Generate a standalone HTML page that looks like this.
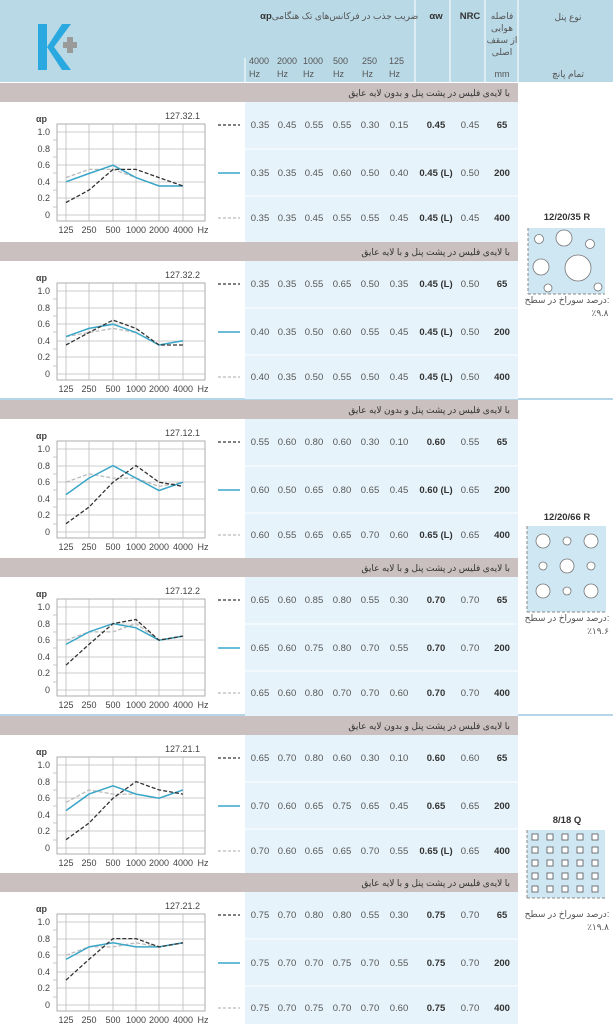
<!DOCTYPE html>
<html><head><meta charset="utf-8"><style>
html,body{margin:0;padding:0;background:#fff;}
svg{display:block;font-family:"Liberation Sans","DejaVu Sans",sans-serif;}
.v{font-size:9.5px;fill:#555;text-anchor:middle;}
.b{font-size:9.5px;fill:#333;text-anchor:middle;font-weight:bold;}
.ax{font-size:9px;fill:#444;}
.bt{font-size:9px;fill:#333;text-anchor:end;}
.h{font-size:9px;fill:#555;}
</style></head><body>
<svg width="613" height="1024" viewBox="0 0 613 1024" xmlns="http://www.w3.org/2000/svg">
<defs>
<g id="grid" stroke="#bbb" stroke-width="0.8" fill="none">
<rect x="57" y="41" width="148" height="97" stroke="#999"/>
<line x1="57" y1="49" x2="205" y2="49"/><line x1="57" y1="66" x2="205" y2="66"/><line x1="57" y1="82" x2="205" y2="82"/><line x1="57" y1="99" x2="205" y2="99"/><line x1="57" y1="115" x2="205" y2="115"/><line x1="57" y1="132" x2="205" y2="132"/>
<line x1="66" y1="41" x2="66" y2="138"/><line x1="89" y1="41" x2="89" y2="138"/><line x1="113" y1="41" x2="113" y2="138"/><line x1="136" y1="41" x2="136" y2="138"/><line x1="159" y1="41" x2="159" y2="138"/><line x1="183" y1="41" x2="183" y2="138"/>
<line x1="53" y1="57" x2="57" y2="57"/><line x1="53" y1="74" x2="57" y2="74"/><line x1="53" y1="90" x2="57" y2="90"/><line x1="53" y1="107" x2="57" y2="107"/><line x1="53" y1="124" x2="57" y2="124"/>
</g>
<g id="leg">
<line x1="218" y1="42" x2="240" y2="42" stroke="#333" stroke-width="1.3" stroke-dasharray="3,2"/>
<line x1="218" y1="90" x2="240" y2="90" stroke="#3aa6c8" stroke-width="1.5"/>
<line x1="218" y1="135" x2="240" y2="135" stroke="#bbb" stroke-width="1.2" stroke-dasharray="3,2"/>
<line x1="245" y1="66" x2="518" y2="66" stroke="#fff" stroke-width="1"/>
<line x1="245" y1="113" x2="518" y2="113" stroke="#fff" stroke-width="1"/>
</g>
</defs>

<!-- header -->
<rect x="0" y="0" width="613" height="82" fill="#b9d9e6"/>
<g stroke="#fff" stroke-width="1">
<line x1="415" y1="0" x2="415" y2="82"/><line x1="450" y1="0" x2="450" y2="82"/><line x1="485" y1="0" x2="485" y2="82"/><line x1="518" y1="0" x2="518" y2="82"/>
<line x1="245" y1="58" x2="245" y2="82"/>
</g>
<rect x="38" y="24" width="9" height="46" fill="#29a9e0"/>
<polygon points="47,47 62,24 71,24 54,47 71,70 62,70" fill="#29a9e0"/>
<rect x="63" y="42" width="14" height="6" fill="#9a9a9a"/><rect x="67" y="37" width="6" height="16" fill="#9a9a9a"/>
<text x="345" y="19" class="h" text-anchor="middle">ضریب جذب در فرکانس‌های تک هنگامی</text>
<text x="266" y="19" class="b">αp</text>
<text x="436" y="19" class="b">αw</text>
<text x="470" y="19" class="b">NRC</text>
<text x="502" y="19" class="h" text-anchor="middle">فاصله</text>
<text x="502" y="31" class="h" text-anchor="middle">هوایی</text>
<text x="502" y="43" class="h" text-anchor="middle">از سقف</text>
<text x="502" y="55" class="h" text-anchor="middle">اصلی</text>
<text x="502" y="77" class="h" text-anchor="middle">mm</text>
<text x="568" y="20" class="h" text-anchor="middle">نوع پنل</text>
<text x="568" y="77" class="h" text-anchor="middle">تمام پانچ</text>
<g class="h">
<text x="249" y="64">4000</text><text x="249" y="77">Hz</text>
<text x="277" y="64">2000</text><text x="277" y="77">Hz</text>
<text x="303" y="64">1000</text><text x="303" y="77">Hz</text>
<text x="333" y="64">500</text><text x="333" y="77">Hz</text>
<text x="362" y="64">250</text><text x="362" y="77">Hz</text>
<text x="389" y="64">125</text><text x="389" y="77">Hz</text>
</g>

<line x1="0" y1="399" x2="613" y2="399" stroke="#9cc9dd" stroke-width="1.5"/>
<line x1="0" y1="715" x2="613" y2="715" stroke="#9cc9dd" stroke-width="1.5"/>

<!-- Section 1 -->
<g transform="translate(0,83)">
<rect x="0" y="0" width="518" height="19" fill="#c9c0bf"/>
<rect x="245" y="19" width="273" height="140" fill="#e6f3fa"/>
<text x="510" y="13" class="bt">با لایه‌ی فلیس در پشت پنل و بدون لایه عایق</text>
<use href="#grid"/><use href="#leg"/>
<text x="36" y="39" class="ax" font-weight="bold">αp</text>
<text x="50" y="52" class="ax" text-anchor="end">1.0</text><text x="50" y="69" class="ax" text-anchor="end">0.8</text><text x="50" y="85" class="ax" text-anchor="end">0.6</text><text x="50" y="102" class="ax" text-anchor="end">0.4</text><text x="50" y="118" class="ax" text-anchor="end">0.2</text><text x="50" y="135" class="ax" text-anchor="end">0</text>
<text x="200" y="36" class="ax" text-anchor="end">127.32.1</text>
<g class="ax" text-anchor="middle"><text x="66" y="150">125</text><text x="89" y="150">250</text><text x="113" y="150">500</text><text x="136" y="150">1000</text><text x="159" y="150">2000</text><text x="183" y="150">4000</text><text x="203" y="150">Hz</text></g>
<polyline points="66,94.6 89,86.4 113,86.4 136,94.6 159,103 183,103" fill="none" stroke="#bbb" stroke-width="1.3" stroke-dasharray="4,2"/>
<polyline points="66,98.8 89,90.5 113,82.2 136,94.6 159,103 183,103" fill="none" stroke="#3aa6c8" stroke-width="1.5"/>
<polyline points="66,119.5 89,107.1 113,86.4 136,86.4 159,94.6 183,103" fill="none" stroke="#333" stroke-width="1.3" stroke-dasharray="4,2"/>
<g class="v"><text x="260" y="45">0.35</text><text x="287" y="45">0.45</text><text x="314" y="45">0.55</text><text x="342" y="45">0.55</text><text x="370" y="45">0.30</text><text x="399" y="45">0.15</text><text x="470" y="45">0.45</text></g>
<text x="436" y="45" class="b">0.45</text><text x="502" y="45" class="b">65</text>
<g class="v"><text x="260" y="93">0.35</text><text x="287" y="93">0.35</text><text x="314" y="93">0.45</text><text x="342" y="93">0.60</text><text x="370" y="93">0.50</text><text x="399" y="93">0.40</text><text x="470" y="93">0.50</text></g>
<text x="436" y="93" class="b">0.45 (L)</text><text x="502" y="93" class="b">200</text>
<g class="v"><text x="260" y="138">0.35</text><text x="287" y="138">0.35</text><text x="314" y="138">0.45</text><text x="342" y="138">0.55</text><text x="370" y="138">0.55</text><text x="399" y="138">0.45</text><text x="470" y="138">0.45</text></g>
<text x="436" y="138" class="b">0.45 (L)</text><text x="502" y="138" class="b">400</text>
</g>

<!-- Section 2 -->
<g transform="translate(0,242)">
<rect x="0" y="0" width="518" height="19" fill="#c9c0bf"/>
<rect x="245" y="19" width="273" height="138" fill="#e6f3fa"/>
<text x="510" y="13" class="bt">با لایه‌ی فلیس در پشت پنل و با لایه عایق</text>
<use href="#grid"/><use href="#leg"/>
<text x="36" y="39" class="ax" font-weight="bold">αp</text>
<text x="50" y="52" class="ax" text-anchor="end">1.0</text><text x="50" y="69" class="ax" text-anchor="end">0.8</text><text x="50" y="85" class="ax" text-anchor="end">0.6</text><text x="50" y="102" class="ax" text-anchor="end">0.4</text><text x="50" y="118" class="ax" text-anchor="end">0.2</text><text x="50" y="135" class="ax" text-anchor="end">0</text>
<text x="200" y="36" class="ax" text-anchor="end">127.32.2</text>
<g class="ax" text-anchor="middle"><text x="66" y="150">125</text><text x="89" y="150">250</text><text x="113" y="150">500</text><text x="136" y="150">1000</text><text x="159" y="150">2000</text><text x="183" y="150">4000</text><text x="203" y="150">Hz</text></g>
<polyline points="66,94.6 89,90.5 113,86.4 136,90.5 159,103 183,98.8" fill="none" stroke="#bbb" stroke-width="1.3" stroke-dasharray="4,2"/>
<polyline points="66,94.6 89,86.4 113,82.2 136,90.5 159,103 183,98.8" fill="none" stroke="#3aa6c8" stroke-width="1.5"/>
<polyline points="66,103 89,90.5 113,78.1 136,86.4 159,103 183,103" fill="none" stroke="#333" stroke-width="1.3" stroke-dasharray="4,2"/>
<g class="v"><text x="260" y="45">0.35</text><text x="287" y="45">0.35</text><text x="314" y="45">0.55</text><text x="342" y="45">0.65</text><text x="370" y="45">0.50</text><text x="399" y="45">0.35</text><text x="470" y="45">0.50</text></g>
<text x="436" y="45" class="b">0.45 (L)</text><text x="502" y="45" class="b">65</text>
<g class="v"><text x="260" y="93">0.40</text><text x="287" y="93">0.35</text><text x="314" y="93">0.50</text><text x="342" y="93">0.60</text><text x="370" y="93">0.55</text><text x="399" y="93">0.45</text><text x="470" y="93">0.50</text></g>
<text x="436" y="93" class="b">0.45 (L)</text><text x="502" y="93" class="b">200</text>
<g class="v"><text x="260" y="138">0.40</text><text x="287" y="138">0.35</text><text x="314" y="138">0.50</text><text x="342" y="138">0.55</text><text x="370" y="138">0.50</text><text x="399" y="138">0.45</text><text x="470" y="138">0.50</text></g>
<text x="436" y="138" class="b">0.45 (L)</text><text x="502" y="138" class="b">400</text>
</g>

<!-- Section 3 -->
<g transform="translate(0,400)">
<rect x="0" y="0" width="518" height="19" fill="#c9c0bf"/>
<rect x="245" y="19" width="273" height="139" fill="#e6f3fa"/>
<text x="510" y="13" class="bt">با لایه‌ی فلیس در پشت پنل و بدون لایه عایق</text>
<use href="#grid"/><use href="#leg"/>
<text x="36" y="39" class="ax" font-weight="bold">αp</text>
<text x="50" y="52" class="ax" text-anchor="end">1.0</text><text x="50" y="69" class="ax" text-anchor="end">0.8</text><text x="50" y="85" class="ax" text-anchor="end">0.6</text><text x="50" y="102" class="ax" text-anchor="end">0.4</text><text x="50" y="118" class="ax" text-anchor="end">0.2</text><text x="50" y="135" class="ax" text-anchor="end">0</text>
<text x="200" y="36" class="ax" text-anchor="end">127.12.1</text>
<g class="ax" text-anchor="middle"><text x="66" y="150">125</text><text x="89" y="150">250</text><text x="113" y="150">500</text><text x="136" y="150">1000</text><text x="159" y="150">2000</text><text x="183" y="150">4000</text><text x="203" y="150">Hz</text></g>
<polyline points="66,82.2 89,73.9 113,78.1 136,78.1 159,86.4 183,82.2" fill="none" stroke="#bbb" stroke-width="1.3" stroke-dasharray="4,2"/>
<polyline points="66,94.6 89,78.1 113,65.6 136,78.1 159,90.5 183,82.2" fill="none" stroke="#3aa6c8" stroke-width="1.5"/>
<polyline points="66,123.7 89,107.1 113,82.2 136,65.6 159,82.2 183,86.4" fill="none" stroke="#333" stroke-width="1.3" stroke-dasharray="4,2"/>
<g class="v"><text x="260" y="45">0.55</text><text x="287" y="45">0.60</text><text x="314" y="45">0.80</text><text x="342" y="45">0.60</text><text x="370" y="45">0.30</text><text x="399" y="45">0.10</text><text x="470" y="45">0.55</text></g>
<text x="436" y="45" class="b">0.60</text><text x="502" y="45" class="b">65</text>
<g class="v"><text x="260" y="93">0.60</text><text x="287" y="93">0.50</text><text x="314" y="93">0.65</text><text x="342" y="93">0.80</text><text x="370" y="93">0.65</text><text x="399" y="93">0.45</text><text x="470" y="93">0.65</text></g>
<text x="436" y="93" class="b">0.60 (L)</text><text x="502" y="93" class="b">200</text>
<g class="v"><text x="260" y="138">0.60</text><text x="287" y="138">0.55</text><text x="314" y="138">0.65</text><text x="342" y="138">0.65</text><text x="370" y="138">0.70</text><text x="399" y="138">0.60</text><text x="470" y="138">0.65</text></g>
<text x="436" y="138" class="b">0.65 (L)</text><text x="502" y="138" class="b">400</text>
</g>

<!-- Section 4 -->
<g transform="translate(0,558)">
<rect x="0" y="0" width="518" height="19" fill="#c9c0bf"/>
<rect x="245" y="19" width="273" height="139" fill="#e6f3fa"/>
<text x="510" y="13" class="bt">با لایه‌ی فلیس در پشت پنل و با لایه عایق</text>
<use href="#grid"/><use href="#leg"/>
<text x="36" y="39" class="ax" font-weight="bold">αp</text>
<text x="50" y="52" class="ax" text-anchor="end">1.0</text><text x="50" y="69" class="ax" text-anchor="end">0.8</text><text x="50" y="85" class="ax" text-anchor="end">0.6</text><text x="50" y="102" class="ax" text-anchor="end">0.4</text><text x="50" y="118" class="ax" text-anchor="end">0.2</text><text x="50" y="135" class="ax" text-anchor="end">0</text>
<text x="200" y="36" class="ax" text-anchor="end">127.12.2</text>
<g class="ax" text-anchor="middle"><text x="66" y="150">125</text><text x="89" y="150">250</text><text x="113" y="150">500</text><text x="136" y="150">1000</text><text x="159" y="150">2000</text><text x="183" y="150">4000</text><text x="203" y="150">Hz</text></g>
<polyline points="66,82.2 89,73.9 113,73.9 136,65.6 159,82.2 183,78.1" fill="none" stroke="#bbb" stroke-width="1.3" stroke-dasharray="4,2"/>
<polyline points="66,86.4 89,73.9 113,65.6 136,69.8 159,82.2 183,78.1" fill="none" stroke="#3aa6c8" stroke-width="1.5"/>
<polyline points="66,107.1 89,86.4 113,65.6 136,61.5 159,82.2 183,78.1" fill="none" stroke="#333" stroke-width="1.3" stroke-dasharray="4,2"/>
<g class="v"><text x="260" y="45">0.65</text><text x="287" y="45">0.60</text><text x="314" y="45">0.85</text><text x="342" y="45">0.80</text><text x="370" y="45">0.55</text><text x="399" y="45">0.30</text><text x="470" y="45">0.70</text></g>
<text x="436" y="45" class="b">0.70</text><text x="502" y="45" class="b">65</text>
<g class="v"><text x="260" y="93">0.65</text><text x="287" y="93">0.60</text><text x="314" y="93">0.75</text><text x="342" y="93">0.80</text><text x="370" y="93">0.70</text><text x="399" y="93">0.55</text><text x="470" y="93">0.70</text></g>
<text x="436" y="93" class="b">0.70</text><text x="502" y="93" class="b">200</text>
<g class="v"><text x="260" y="138">0.65</text><text x="287" y="138">0.60</text><text x="314" y="138">0.80</text><text x="342" y="138">0.70</text><text x="370" y="138">0.70</text><text x="399" y="138">0.60</text><text x="470" y="138">0.70</text></g>
<text x="436" y="138" class="b">0.70</text><text x="502" y="138" class="b">400</text>
</g>

<!-- Section 5 -->
<g transform="translate(0,716)">
<rect x="0" y="0" width="518" height="19" fill="#c9c0bf"/>
<rect x="245" y="19" width="273" height="138" fill="#e6f3fa"/>
<text x="510" y="13" class="bt">با لایه‌ی فلیس در پشت پنل و بدون لایه عایق</text>
<use href="#grid"/><use href="#leg"/>
<text x="36" y="39" class="ax" font-weight="bold">αp</text>
<text x="50" y="52" class="ax" text-anchor="end">1.0</text><text x="50" y="69" class="ax" text-anchor="end">0.8</text><text x="50" y="85" class="ax" text-anchor="end">0.6</text><text x="50" y="102" class="ax" text-anchor="end">0.4</text><text x="50" y="118" class="ax" text-anchor="end">0.2</text><text x="50" y="135" class="ax" text-anchor="end">0</text>
<text x="200" y="36" class="ax" text-anchor="end">127.21.1</text>
<g class="ax" text-anchor="middle"><text x="66" y="150">125</text><text x="89" y="150">250</text><text x="113" y="150">500</text><text x="136" y="150">1000</text><text x="159" y="150">2000</text><text x="183" y="150">4000</text><text x="203" y="150">Hz</text></g>
<polyline points="66,86.4 89,73.9 113,78.1 136,78.1 159,82.2 183,73.9" fill="none" stroke="#bbb" stroke-width="1.3" stroke-dasharray="4,2"/>
<polyline points="66,94.6 89,78.1 113,69.8 136,78.1 159,82.2 183,73.9" fill="none" stroke="#3aa6c8" stroke-width="1.5"/>
<polyline points="66,123.7 89,107.1 113,82.2 136,65.6 159,73.9 183,78.1" fill="none" stroke="#333" stroke-width="1.3" stroke-dasharray="4,2"/>
<g class="v"><text x="260" y="45">0.65</text><text x="287" y="45">0.70</text><text x="314" y="45">0.80</text><text x="342" y="45">0.60</text><text x="370" y="45">0.30</text><text x="399" y="45">0.10</text><text x="470" y="45">0.60</text></g>
<text x="436" y="45" class="b">0.60</text><text x="502" y="45" class="b">65</text>
<g class="v"><text x="260" y="93">0.70</text><text x="287" y="93">0.60</text><text x="314" y="93">0.65</text><text x="342" y="93">0.75</text><text x="370" y="93">0.65</text><text x="399" y="93">0.45</text><text x="470" y="93">0.65</text></g>
<text x="436" y="93" class="b">0.65</text><text x="502" y="93" class="b">200</text>
<g class="v"><text x="260" y="138">0.70</text><text x="287" y="138">0.60</text><text x="314" y="138">0.65</text><text x="342" y="138">0.65</text><text x="370" y="138">0.70</text><text x="399" y="138">0.55</text><text x="470" y="138">0.65</text></g>
<text x="436" y="138" class="b">0.65 (L)</text><text x="502" y="138" class="b">400</text>
</g>

<!-- Section 6 -->
<g transform="translate(0,873)">
<rect x="0" y="0" width="518" height="19" fill="#c9c0bf"/>
<rect x="245" y="19" width="273" height="132" fill="#e6f3fa"/>
<text x="510" y="13" class="bt">با لایه‌ی فلیس در پشت پنل و با لایه عایق</text>
<use href="#grid"/><use href="#leg"/>
<text x="36" y="39" class="ax" font-weight="bold">αp</text>
<text x="50" y="52" class="ax" text-anchor="end">1.0</text><text x="50" y="69" class="ax" text-anchor="end">0.8</text><text x="50" y="85" class="ax" text-anchor="end">0.6</text><text x="50" y="102" class="ax" text-anchor="end">0.4</text><text x="50" y="118" class="ax" text-anchor="end">0.2</text><text x="50" y="135" class="ax" text-anchor="end">0</text>
<text x="200" y="36" class="ax" text-anchor="end">127.21.2</text>
<g class="ax" text-anchor="middle"><text x="66" y="150">125</text><text x="89" y="150">250</text><text x="113" y="150">500</text><text x="136" y="150">1000</text><text x="159" y="150">2000</text><text x="183" y="150">4000</text><text x="203" y="150">Hz</text></g>
<polyline points="66,82.2 89,73.9 113,73.9 136,69.8 159,73.9 183,69.8" fill="none" stroke="#bbb" stroke-width="1.3" stroke-dasharray="4,2"/>
<polyline points="66,86.4 89,73.9 113,69.8 136,73.9 159,73.9 183,69.8" fill="none" stroke="#3aa6c8" stroke-width="1.5"/>
<polyline points="66,107.1 89,86.4 113,65.6 136,65.6 159,73.9 183,69.8" fill="none" stroke="#333" stroke-width="1.3" stroke-dasharray="4,2"/>
<g class="v"><text x="260" y="45">0.75</text><text x="287" y="45">0.70</text><text x="314" y="45">0.80</text><text x="342" y="45">0.80</text><text x="370" y="45">0.55</text><text x="399" y="45">0.30</text><text x="470" y="45">0.70</text></g>
<text x="436" y="45" class="b">0.75</text><text x="502" y="45" class="b">65</text>
<g class="v"><text x="260" y="93">0.75</text><text x="287" y="93">0.70</text><text x="314" y="93">0.70</text><text x="342" y="93">0.75</text><text x="370" y="93">0.70</text><text x="399" y="93">0.55</text><text x="470" y="93">0.70</text></g>
<text x="436" y="93" class="b">0.75</text><text x="502" y="93" class="b">200</text>
<g class="v"><text x="260" y="138">0.75</text><text x="287" y="138">0.70</text><text x="314" y="138">0.75</text><text x="342" y="138">0.70</text><text x="370" y="138">0.70</text><text x="399" y="138">0.60</text><text x="470" y="138">0.70</text></g>
<text x="436" y="138" class="b">0.75</text><text x="502" y="138" class="b">400</text>
</g>

<!-- Panel 1 -->
<text x="567" y="220" class="b">12/20/35 R</text>
<rect x="528" y="228" width="77" height="66" fill="#cfe6f3"/>
<line x1="528" y1="228" x2="528" y2="294" stroke="#888" stroke-dasharray="3,2"/>
<line x1="528" y1="294" x2="605" y2="294" stroke="#888" stroke-dasharray="3,2"/>
<g fill="#fff" stroke="#777" stroke-width="0.8">
<circle cx="539" cy="239" r="4.5"/><circle cx="564" cy="238" r="8"/><circle cx="590" cy="244" r="4.5"/>
<circle cx="541" cy="267" r="8"/><circle cx="578" cy="268" r="13"/><circle cx="548" cy="288" r="4"/><circle cx="598" cy="287" r="4"/>
</g>
<text x="567" y="303" class="h" text-anchor="middle">درصد سوراخ در سطح:</text>
<text x="600" y="316" class="h" text-anchor="middle">٪۹.۸</text>

<!-- Panel 2 -->
<text x="567" y="520" class="b">12/20/66 R</text>
<rect x="527" y="526" width="79" height="86" fill="#cfe6f3"/>
<line x1="527" y1="526" x2="527" y2="612" stroke="#888" stroke-dasharray="3,2"/>
<line x1="527" y1="612" x2="606" y2="612" stroke="#888" stroke-dasharray="3,2"/>
<g fill="#fff" stroke="#777" stroke-width="0.8">
<circle cx="543" cy="541" r="7"/><circle cx="567" cy="541" r="4"/><circle cx="591" cy="541" r="7"/>
<circle cx="543" cy="566" r="4"/><circle cx="567" cy="566" r="7"/><circle cx="591" cy="566" r="4"/>
<circle cx="543" cy="591" r="7"/><circle cx="567" cy="591" r="4"/><circle cx="591" cy="591" r="7"/>
</g>
<text x="567" y="621" class="h" text-anchor="middle">درصد سوراخ در سطح:</text>
<text x="598" y="634" class="h" text-anchor="middle">٪۱۹.۶</text>

<!-- Panel 3 -->
<text x="567" y="823" class="b">8/18 Q</text>
<rect x="527" y="830" width="78" height="68" fill="#cfe6f3"/>
<line x1="527" y1="830" x2="527" y2="898" stroke="#888" stroke-dasharray="3,2"/>
<line x1="527" y1="898" x2="605" y2="898" stroke="#888" stroke-dasharray="3,2"/>
<g fill="#fff" stroke="#555" stroke-width="0.8">
<rect x="532" y="834" width="6" height="6"/><rect x="547" y="834" width="6" height="6"/><rect x="562" y="834" width="6" height="6"/><rect x="577" y="834" width="6" height="6"/><rect x="592" y="834" width="6" height="6"/>
<rect x="532" y="847" width="6" height="6"/><rect x="547" y="847" width="6" height="6"/><rect x="562" y="847" width="6" height="6"/><rect x="577" y="847" width="6" height="6"/><rect x="592" y="847" width="6" height="6"/>
<rect x="532" y="860" width="6" height="6"/><rect x="547" y="860" width="6" height="6"/><rect x="562" y="860" width="6" height="6"/><rect x="577" y="860" width="6" height="6"/><rect x="592" y="860" width="6" height="6"/>
<rect x="532" y="873" width="6" height="6"/><rect x="547" y="873" width="6" height="6"/><rect x="562" y="873" width="6" height="6"/><rect x="577" y="873" width="6" height="6"/><rect x="592" y="873" width="6" height="6"/>
<rect x="532" y="886" width="6" height="6"/><rect x="547" y="886" width="6" height="6"/><rect x="562" y="886" width="6" height="6"/><rect x="577" y="886" width="6" height="6"/><rect x="592" y="886" width="6" height="6"/>
</g>
<text x="567" y="917" class="h" text-anchor="middle">درصد سوراخ در سطح:</text>
<text x="598" y="930" class="h" text-anchor="middle">٪۱۹.۸</text>
</svg>
</body></html>
